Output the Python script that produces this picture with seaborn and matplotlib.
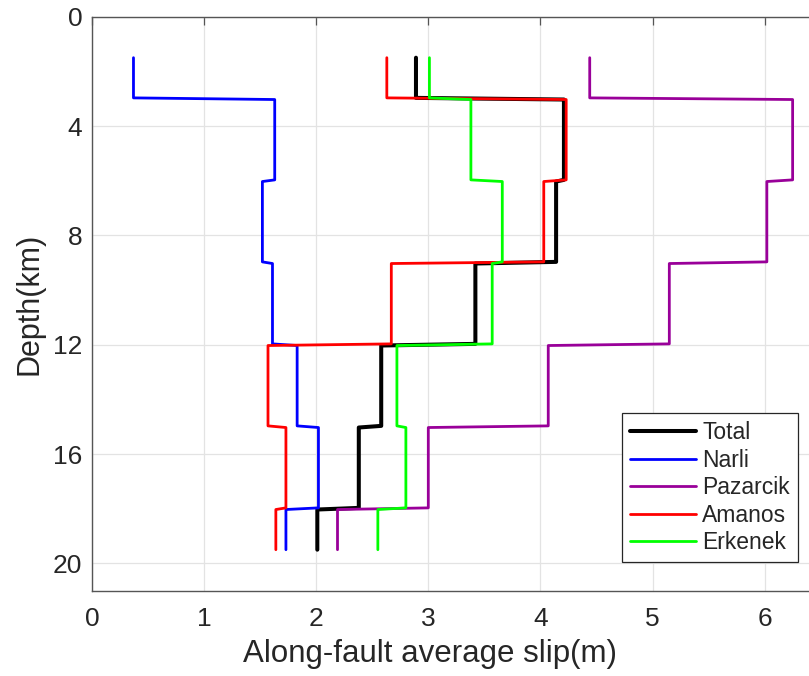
import matplotlib
matplotlib.use("Agg")
import matplotlib.pyplot as plt
import pandas as pd
import seaborn as sns

# Depth boundaries of the slip layers (km)
layer_bounds = [1.5, 3, 6, 9, 12, 15, 18, 19.5]

# Along-fault average slip per layer (m), shallow to deep
fault_names = ["Total", "Narli", "Pazarcik", "Amanos", "Erkenek"]
total_slip = [2.89, 4.21, 4.14, 3.42, 2.58, 2.38, 2.01]
narli_slip = [0.37, 1.63, 1.52, 1.61, 1.83, 2.02, 1.73]
pazarcik_slip = [4.44, 6.25, 6.02, 5.15, 4.07, 3.00, 2.19]
amanos_slip = [2.63, 4.23, 4.03, 2.67, 1.57, 1.73, 1.64]
erkenek_slip = [3.01, 3.38, 3.66, 3.57, 2.72, 2.80, 2.55]

x_ticks = [0, 1, 2, 3, 4, 5, 6]
y_ticks = [0, 4, 8, 12, 16, 20]

series = dict(zip(fault_names,
                  [total_slip, narli_slip, pazarcik_slip, amanos_slip, erkenek_slip]))
colors = {"Total": "black", "Narli": "#0000ff", "Pazarcik": "#990099",
          "Amanos": "#ff0000", "Erkenek": "#00ff00"}
widths = {"Total": 2.9, "Narli": 2.0, "Pazarcik": 2.0, "Amanos": 2.0, "Erkenek": 2.0}


def step_profile(values, bounds, gap=0.03):
    """Vertices of a stepped depth profile (constant slip within each layer)."""
    xs, ys = [], []
    n = len(values)
    for i, v in enumerate(values):
        top = bounds[i] + (gap if i > 0 else 0.0)
        bot = bounds[i + 1] - (gap if i < n - 1 else 0.0)
        xs += [v, v]
        ys += [top, bot]
    return xs, ys


rows = []
for name, vals in series.items():
    xs, ys = step_profile(vals, layer_bounds)
    for k, (x, y) in enumerate(zip(xs, ys)):
        rows.append({"fault": name, "slip": x, "depth": y, "k": k})
df = pd.DataFrame(rows)

sns.set_style("white")
plt.rcParams["font.family"] = ["Liberation Sans", "DejaVu Sans"]
dark = "#262626"

fig = plt.figure(figsize=(8.09, 6.76), dpi=100)
ax = fig.add_axes([92 / 809, 1 - 590.7 / 676, 6.5 * 112.1 / 809, 574.0 / 676])

for name in fault_names:
    sub = df[df["fault"] == name].sort_values("k")
    sns.lineplot(data=sub, x="slip", y="depth", sort=False, estimator=None,
                 color=colors[name], lw=widths[name], label=name, ax=ax)

ax.set_xlim(0, 6.5)
ax.set_ylim(21, 0)
ax.set_xticks(x_ticks)
ax.set_yticks(y_ticks)
ax.grid(True, color="#e3e3e3", lw=0.9)
ax.set_axisbelow(True)
for s in ax.spines.values():
    s.set_color("#555555")
    s.set_linewidth(1.0)
ax.tick_params(direction="in", top=True, right=True, length=6, width=0.9,
               color="#555555", labelcolor=dark, labelsize=19)
ax.tick_params(axis="x", pad=12)
ax.tick_params(axis="y", pad=7)
ax.set_xlabel("Along-fault average slip(m)", fontsize=22.5, color=dark)
ax.set_ylabel("Depth(km)", fontsize=22, color=dark, labelpad=6)
ax.xaxis.set_label_coords(0.464, -0.085)

leg = ax.legend(loc="upper left", bbox_to_anchor=(622 / 809, 1 - 413 / 676),
                bbox_transform=fig.transFigure, borderaxespad=0, fontsize=16.5,
                frameon=True, fancybox=False, framealpha=1, edgecolor=dark,
                handlelength=2.9, handletextpad=0.25, labelspacing=0.2,
                borderpad=0.35)
leg.get_frame().set_linewidth(0.9)

fig.savefig("out.png", dpi=100)
